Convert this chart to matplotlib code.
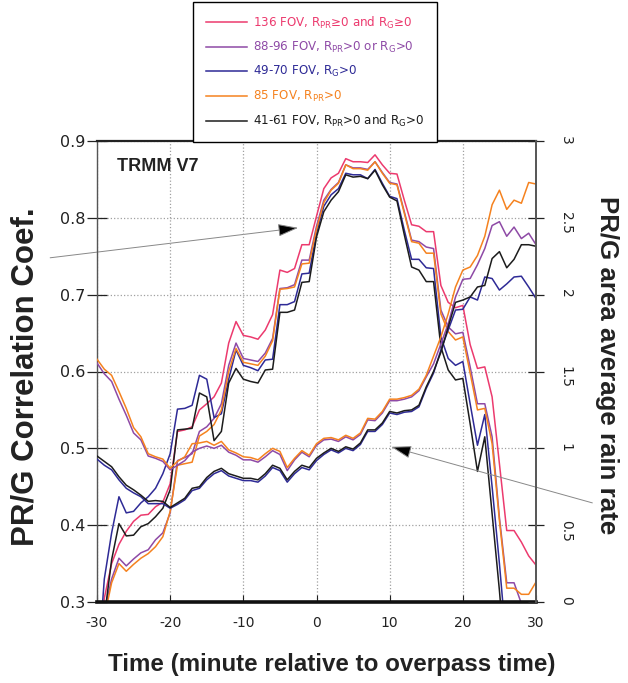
import numpy as np
import matplotlib

matplotlib.use("Agg")
import matplotlib.pyplot as plt
from matplotlib.lines import Line2D
from matplotlib.patches import FancyArrowPatch

plt.rcParams["font.family"] = "DejaVu Sans"
plt.rcParams["axes.unicode_minus"] = False

# time relative to overpass (minutes)
minutes = np.arange(-30, 31)

# PR/G correlation coefficient (left axis), one value per minute, -30..30
corr_136 = [0.20, 0.305, 0.35, 0.375, 0.392, 0.405, 0.413, 0.414, 0.424, 0.43, 0.454,
            0.522, 0.524, 0.528, 0.55, 0.558, 0.567, 0.585, 0.637, 0.665, 0.647,
            0.645, 0.642, 0.654, 0.674, 0.732, 0.729, 0.734, 0.765, 0.765, 0.802,
            0.838, 0.852, 0.858, 0.877, 0.873, 0.873, 0.872, 0.882, 0.869, 0.858,
            0.857, 0.823, 0.791, 0.789, 0.782, 0.782, 0.712, 0.69, 0.683, 0.686,
            0.635, 0.604, 0.606, 0.567, 0.48, 0.393, 0.393, 0.378, 0.36, 0.348]
corr_88 = [0.20, 0.287, 0.33, 0.357, 0.347, 0.356, 0.364, 0.368, 0.381, 0.39, 0.416,
           0.484, 0.488, 0.493, 0.522, 0.528, 0.539, 0.558, 0.608, 0.637, 0.617,
           0.615, 0.613, 0.624, 0.643, 0.708, 0.709, 0.713, 0.745, 0.745, 0.789,
           0.823, 0.837, 0.846, 0.869, 0.865, 0.865, 0.863, 0.873, 0.859, 0.846,
           0.844, 0.808, 0.771, 0.769, 0.762, 0.76, 0.68, 0.658, 0.649, 0.651,
           0.606, 0.558, 0.558, 0.515, 0.41, 0.325, 0.325, 0.298, 0.26, 0.24]
corr_49 = [0.20, 0.33, 0.39, 0.437, 0.416, 0.418, 0.429, 0.437, 0.448, 0.467, 0.493,
           0.551, 0.552, 0.556, 0.595, 0.59, 0.54, 0.545, 0.59, 0.628, 0.608,
           0.605, 0.601, 0.615, 0.616, 0.687, 0.687, 0.691, 0.727, 0.728, 0.78,
           0.815, 0.83, 0.838, 0.858, 0.856, 0.856, 0.851, 0.863, 0.845, 0.828,
           0.825, 0.784, 0.746, 0.746, 0.735, 0.734, 0.645, 0.617, 0.608, 0.613,
           0.558, 0.504, 0.544, 0.45, 0.35, 0.24, 0.20, 0.20, 0.20, 0.20]
corr_85 = [0.18, 0.28, 0.325, 0.35, 0.34, 0.349, 0.357, 0.363, 0.372, 0.385, 0.418,
           0.478, 0.48, 0.482, 0.516, 0.522, 0.531, 0.55, 0.60, 0.63, 0.612,
           0.61, 0.608, 0.62, 0.64, 0.707, 0.708, 0.71, 0.74, 0.741, 0.785,
           0.82, 0.836, 0.845, 0.869, 0.864, 0.864, 0.862, 0.873, 0.858, 0.845,
           0.843, 0.806, 0.769, 0.767, 0.754, 0.754, 0.675, 0.652, 0.641, 0.645,
           0.598, 0.55, 0.552, 0.506, 0.406, 0.318, 0.318, 0.31, 0.31, 0.326]
corr_41 = [0.15, 0.28, 0.355, 0.402, 0.386, 0.387, 0.398, 0.402, 0.411, 0.422, 0.446,
           0.524, 0.525, 0.526, 0.572, 0.567, 0.51, 0.522, 0.585, 0.604, 0.59,
           0.587, 0.585, 0.602, 0.603, 0.677, 0.677, 0.68, 0.716, 0.717, 0.775,
           0.808, 0.823, 0.834, 0.856, 0.853, 0.854, 0.851, 0.862, 0.843, 0.827,
           0.822, 0.778, 0.736, 0.732, 0.717, 0.717, 0.632, 0.602, 0.589, 0.591,
           0.532, 0.47, 0.515, 0.415, 0.315, 0.20, 0.20, 0.20, 0.20, 0.20]

# PR/G area average rain rate (right axis)
rain_88 = [1.555, 1.485, 1.435, 1.32, 1.215, 1.10, 1.055, 0.95, 0.935, 0.915, 0.86,
           0.89, 0.92, 0.975, 1.0, 1.015, 1.0, 1.02, 0.975, 0.955, 0.925,
           0.925, 0.91, 0.945, 0.985, 0.96, 0.855, 0.925, 0.975, 0.945, 1.02,
           1.055, 1.06, 1.045, 1.075, 1.055, 1.09, 1.185, 1.18, 1.23, 1.31,
           1.31, 1.32, 1.335, 1.375, 1.465, 1.55, 1.68, 1.81, 1.985, 2.10,
           2.105, 2.195, 2.30, 2.45, 2.475, 2.38, 2.44, 2.365, 2.40, 2.325]
rain_49 = [0.93, 0.89, 0.86, 0.795, 0.74, 0.71, 0.685, 0.64, 0.64, 0.64, 0.61,
           0.635, 0.665, 0.725, 0.74, 0.795, 0.835, 0.855, 0.82, 0.805, 0.79,
           0.79, 0.78, 0.82, 0.875, 0.855, 0.78, 0.835, 0.875, 0.86, 0.92,
           0.96, 0.99, 0.97, 1.0, 0.985, 1.025, 1.11, 1.11, 1.155, 1.23,
           1.22, 1.235, 1.24, 1.27, 1.39, 1.49, 1.64, 1.77, 1.90, 1.905,
           1.985, 1.965, 2.115, 2.105, 2.03, 2.07, 2.115, 2.12, 2.05, 1.975]
rain_85 = [1.58, 1.515, 1.475, 1.37, 1.26, 1.135, 1.075, 0.965, 0.945, 0.93, 0.87,
           0.915, 0.945, 1.03, 1.035, 1.045, 1.02, 1.045, 0.99, 0.97, 0.945,
           0.94, 0.925, 0.965, 1.0, 0.98, 0.875, 0.935, 0.985, 0.955, 1.03,
           1.065, 1.07, 1.055, 1.085, 1.065, 1.10, 1.195, 1.19, 1.24, 1.32,
           1.32, 1.33, 1.345, 1.385, 1.475, 1.60, 1.725, 1.875, 2.05, 2.16,
           2.18, 2.255, 2.38, 2.585, 2.68, 2.555, 2.615, 2.595, 2.73, 2.72]
rain_41 = [0.95, 0.915, 0.88, 0.815, 0.76, 0.73, 0.695, 0.655, 0.66, 0.655, 0.615,
           0.645, 0.675, 0.74, 0.75, 0.81, 0.85, 0.87, 0.835, 0.82, 0.805,
           0.805, 0.795, 0.835, 0.89, 0.87, 0.795, 0.85, 0.89, 0.875, 0.935,
           0.97, 1.0, 0.98, 1.01, 0.995, 1.035, 1.12, 1.12, 1.165, 1.24,
           1.23, 1.245, 1.25, 1.28, 1.40, 1.50, 1.625, 1.79, 1.95, 1.965,
           1.985, 2.05, 2.06, 2.235, 2.28, 2.175, 2.23, 2.325, 2.325, 2.315]

labels = [
    "136 FOV, R$_{\\mathrm{PR}}$\u22650 and R$_{\\mathrm{G}}$\u22650",
    "88-96 FOV, R$_{\\mathrm{PR}}$>0 or R$_{\\mathrm{G}}$>0",
    "49-70 FOV, R$_{\\mathrm{G}}$>0",
    "85 FOV, R$_{\\mathrm{PR}}$>0",
    "41-61 FOV, R$_{\\mathrm{PR}}$>0 and R$_{\\mathrm{G}}$>0",
]
colors = ["#EC3A6E", "#8E4AA6", "#2E2A96", "#F5821F", "#1C1C1C"]

W, H = 628, 683
fig = plt.figure(figsize=(W / 100, H / 100), dpi=100)
ax = fig.add_axes([97 / W, 1 - 602 / H, 439 / W, 461 / H])
ax2 = ax.twinx()

for vals, c in zip([corr_136, corr_88, corr_49, corr_85, corr_41], colors):
    ax.plot(minutes, vals, color=c, lw=1.1)
for vals, c in zip([rain_88, rain_49, rain_85, rain_41], colors[1:]):
    ax2.plot(minutes, vals, color=c, lw=1.1)

ax.set_xlim(-30, 30)
ax.set_ylim(0.3, 0.9)
ax2.set_ylim(0, 3)
ax.set_xticks(range(-30, 31, 10))
ax.set_yticks(np.arange(0.3, 0.91, 0.1))
ax.set_yticklabels(["0.3", "0.4", "0.5", "0.6", "0.7", "0.8", "0.9"])
ax2.set_yticks([0, 0.5, 1, 1.5, 2, 2.5, 3])
ax2.set_yticklabels(["0", "0.5", "1", "1.5", "2", "2.5", "3"], rotation=-90)

ax.grid(True, linestyle=":", color="#a0a0a0", lw=0.9)
ax.tick_params(axis="x", direction="in", length=5, width=0.8, labelsize=10, pad=10, colors="#222222")
ax.tick_params(axis="y", direction="inout", length=14, width=0.9, labelsize=11.5, pad=1.5, colors="#222222")
ax2.tick_params(axis="y", direction="inout", length=11, width=0.9, labelsize=10, pad=11, colors="#222222")

ax.spines["top"].set_linewidth(1.6)
ax.spines["top"].set_color("#222222")
ax.spines["bottom"].set_linewidth(2.6)
ax.spines["bottom"].set_color("#111111")
ax.spines["left"].set_linewidth(1.0)
ax.spines["left"].set_color("#555555")
ax.spines["right"].set_visible(False)
for s in ["top", "bottom", "left"]:
    ax2.spines[s].set_visible(False)
ax2.spines["right"].set_linewidth(1.4)
ax2.spines["right"].set_color("#555555")

ax.text(0.046, 0.944, "TRMM V7", transform=ax.transAxes, fontsize=13,
        fontweight="bold", family="Liberation Sans", va="center", color="#222222")

fig.text(332 / W, 1 - 665 / H, "Time (minute relative to overpass time)", ha="center",
         va="center", fontsize=17.4, fontweight="bold", family="Liberation Sans", color="#222222")
fig.text(26 / W, 1 - 377 / H, "PR/G Correlation Coef.", rotation=90, ha="center",
         va="center", fontsize=22.5, fontweight="bold", family="Liberation Sans", color="#222222")
fig.text(607 / W, 1 - 365 / H, "PR/G area average rain rate", rotation=-90, ha="center",
         va="center", fontsize=18.6, fontweight="bold", family="Liberation Sans", color="#222222")

# pointer arrows
arr1 = FancyArrowPatch((-36.4, 0.748), (-2.5, 0.787), transform=ax.transData,
                       arrowstyle="-|>,head_length=0.9,head_width=0.28", mutation_scale=14,
                       fc="black", ec="#888888", lw=0.7, shrinkA=0, shrinkB=0, clip_on=False)
ax.add_patch(arr1)
arr2 = FancyArrowPatch((37.7, 0.645), (10.2, 1.01), transform=ax2.transData,
                       arrowstyle="-|>,head_length=0.9,head_width=0.28", mutation_scale=14,
                       fc="black", ec="#888888", lw=0.7, shrinkA=0, shrinkB=0, clip_on=False)
ax2.add_patch(arr2)

handles = [Line2D([], [], color=c, lw=1.1) for c in colors]
leg = fig.legend(handles, labels, loc="upper left", bbox_to_anchor=(193 / W, 1 - 2 / H),
                 frameon=True, fancybox=False, edgecolor="black", framealpha=1,
                 fontsize=8.6, handlelength=3.5, handletextpad=0.5, labelspacing=0.78,
                 borderpad=1.05, borderaxespad=0, labelcolor="linecolor")
leg.get_frame().set_linewidth(1.0)

fig.savefig("out.png", dpi=100)
